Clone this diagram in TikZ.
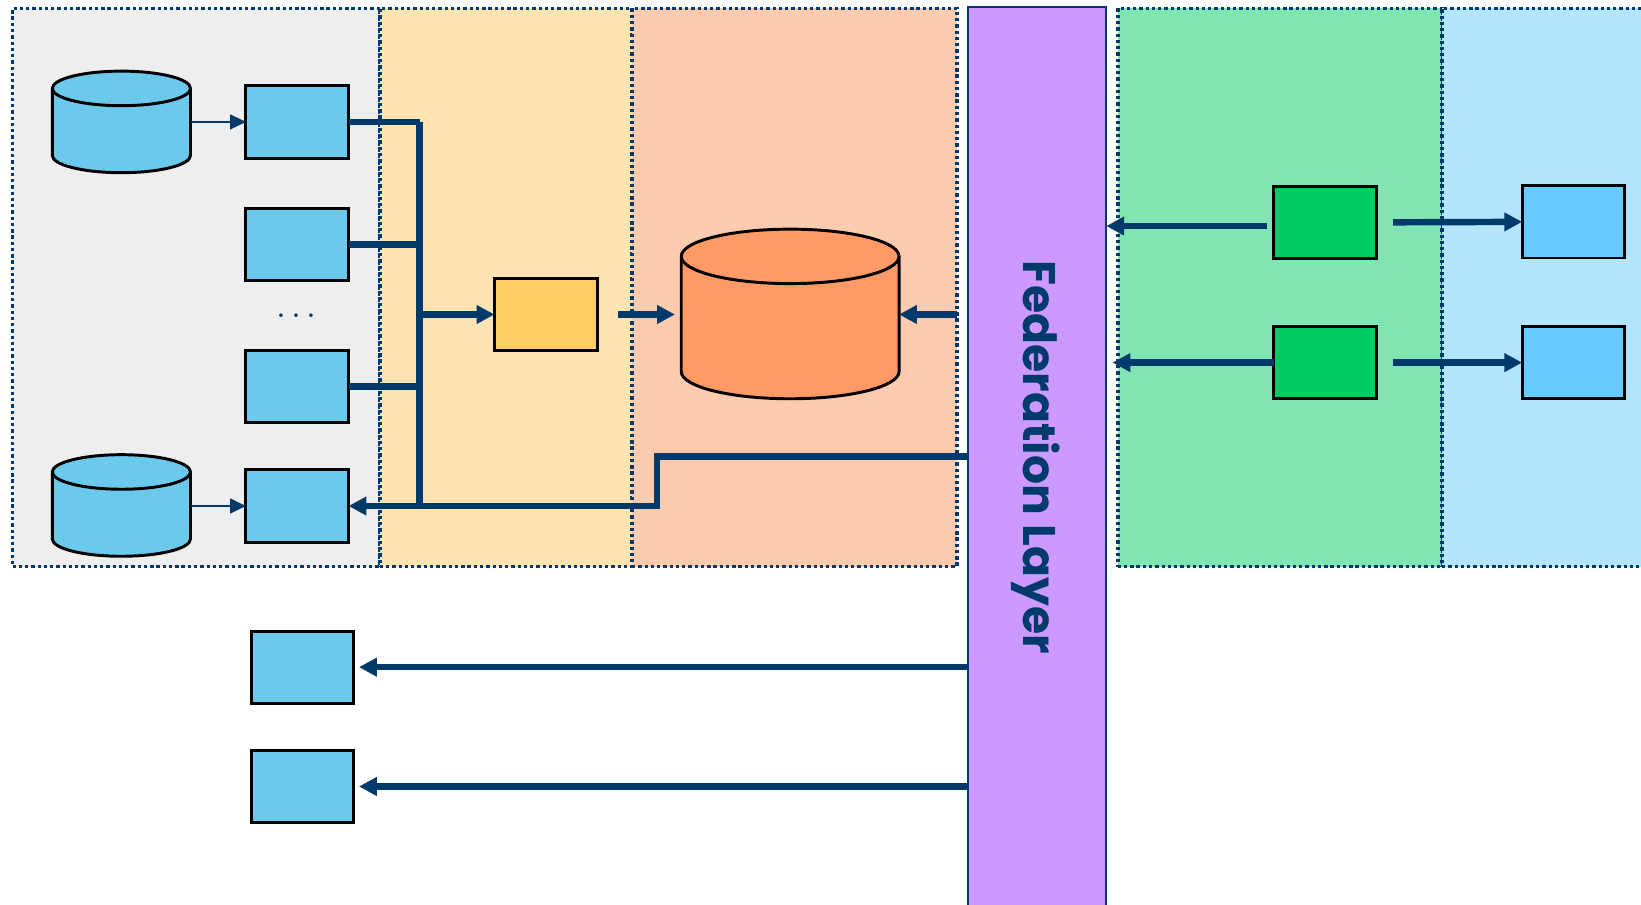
\documentclass[tikz,border=0pt]{standalone}
\usepackage{fontspec}
\newfontfamily\fedfont{Poppins}
\usetikzlibrary{arrows.meta,shapes.geometric}
\definecolor{linkblue}{HTML}{003A6B}
\definecolor{lakegray}{HTML}{EEEEEE}
\definecolor{stageyellow}{HTML}{FEE4B0}
\definecolor{storepeach}{HTML}{FFCBAF}
\definecolor{fedpurple}{HTML}{CC99FF}
\definecolor{provgreen}{HTML}{80E5B3}
\definecolor{conslight}{HTML}{B3E5FF}
\definecolor{srcblue}{HTML}{6BC9EB}
\definecolor{consblue}{HTML}{66CCFF}
\definecolor{etlyellow}{HTML}{FFCC66}
\definecolor{huborange}{HTML}{FF9966}
\definecolor{nodegreen}{HTML}{00CC66}

\begin{document}
\begin{tikzpicture}[x=0.01cm,y=-0.01cm,every node/.style={inner sep=0pt,outer sep=0pt},
  panel/.style={draw=linkblue,line width=1pt,dash pattern=on 0.9pt off 0.8pt,anchor=north west,minimum height=5.33cm},
  box/.style={draw=black,line width=0.8pt,minimum width=0.98cm,minimum height=0.69cm},
  db/.style={cylinder,shape border rotate=90,aspect=0.25,draw=black,line width=0.8pt,inner ysep=0pt,anchor=shape center},
  link/.style={linkblue,line width=1.75pt},
  feed/.style={linkblue,line width=0.6pt,-{Triangle[length=0.15cm,width=0.14cm]}},
  arr/.style={-{Triangle[length=0.17cm,width=0.17cm]}}]
  \useasboundingbox (0,0) rectangle (1568,864);
  \clip (0,0) rectangle (1568,864);
  \fill[white] (0,0) rectangle (1568,864);
  % panels
  \node[panel,fill=lakegray,minimum width=3.51cm] (lake) at (12,8) {};
  \node[panel,fill=stageyellow,minimum width=2.41cm] (stage) at (363,8) {};
  \node[panel,fill=storepeach,minimum width=3.10cm] (store) at (604,8) {};
  \node[panel,fill=provgreen,minimum width=3.10cm] (prov) at (1068,8) {};
  \node[panel,fill=conslight,minimum width=2.20cm] (cons) at (1378,8) {};
  \node[draw=linkblue,line width=0.6pt,fill=fedpurple,anchor=north west,minimum width=1.32cm,minimum height=8.80cm] (fed) at (925,7) {};
  \node[rotate=-90,text=linkblue,font=\fedfont\bfseries\fontsize{12.4}{15}\selectfont] (fedlabel) at (990,437) {Federation Layer};
  % sources
  \node[db,fill=srcblue,inner xsep=0.66cm,minimum width=1.32cm,minimum height=0.97cm] (db1) at (116,116.5) {};
  \node[db,fill=srcblue,inner xsep=0.66cm,minimum width=1.32cm,minimum height=0.97cm] (db2) at (116,483) {};
  \node[box,fill=srcblue] (a1) at (284,116.5) {};
  \node[box,fill=srcblue] (a2) at (284,233.5) {};
  \node[text=linkblue,font=\small] (gap) at (283,302) {.\,.\,.};
  \node[box,fill=srcblue] (a3) at (284,369.5) {};
  \node[box,fill=srcblue] (a4) at (284,483.5) {};
  \node[box,fill=etlyellow] (etl) at (521.5,300.5) {};
  \node[db,fill=huborange,inner xsep=1.04cm,minimum width=2.08cm,minimum height=1.62cm] (hub) at (755,300) {};
  % right side
  \node[box,fill=nodegreen] (g1) at (1266,212.5) {};
  \node[box,fill=nodegreen] (g2) at (1266,346.5) {};
  \node[box,fill=consblue] (c1) at (1503.5,212) {};
  \node[box,fill=consblue] (c2) at (1503.5,346.5) {};
  % outputs
  \node[box,fill=srcblue] (o1) at (289,637.5) {};
  \node[box,fill=srcblue] (o2) at (289,751.5) {};
  \coordinate (busx) at (401,0);
  \coordinate (turn) at (628,436);
  \draw[feed] (db1.east |- a1.west) -- (a1.west);
  \draw[feed] (db2.east |- a4.west) -- (a4.west);
  \draw[link] (a1.east) -- (a1.east -| busx);
  \draw[link] (a2.east) -- (a2.east -| busx);
  \draw[link] (a3.east) -- (a3.east -| busx);
  \draw[link] (a1.east -| busx) -- (a4.east -| busx);
  \draw[link,arr] (etl.west -| busx) -- (etl.west);
  \draw[link,arr,shorten <=0.2cm,shorten >=0.06cm] (etl.east) -- (etl.east -| hub.west);
  \draw[link,arr,shorten <=0.11cm] (fed.west |- etl.east) -- (etl.east -| hub.east);
  \draw[link,arr] (fed.west |- turn) -- (turn) |- (a4.east);
  \draw[link,arr,shorten <=0.06cm] ([yshift=-0.035cm]g1.west) -- ([yshift=-0.035cm]g1.west -| fed.east);
  \draw[link,arr,shorten >=0.06cm] (g2.west) -- (g2.west -| fed.east);
  \draw[link,arr,shorten <=0.16cm] (g1.east) -- (c1.west);
  \draw[link,arr,shorten <=0.16cm] (g2.east) -- (c2.west);
  \draw[link,arr,shorten >=0.05cm] (fed.west |- o1.east) -- (o1.east);
  \draw[link,arr,shorten >=0.05cm] (fed.west |- o2.east) -- (o2.east);
\end{tikzpicture}
\end{document}
